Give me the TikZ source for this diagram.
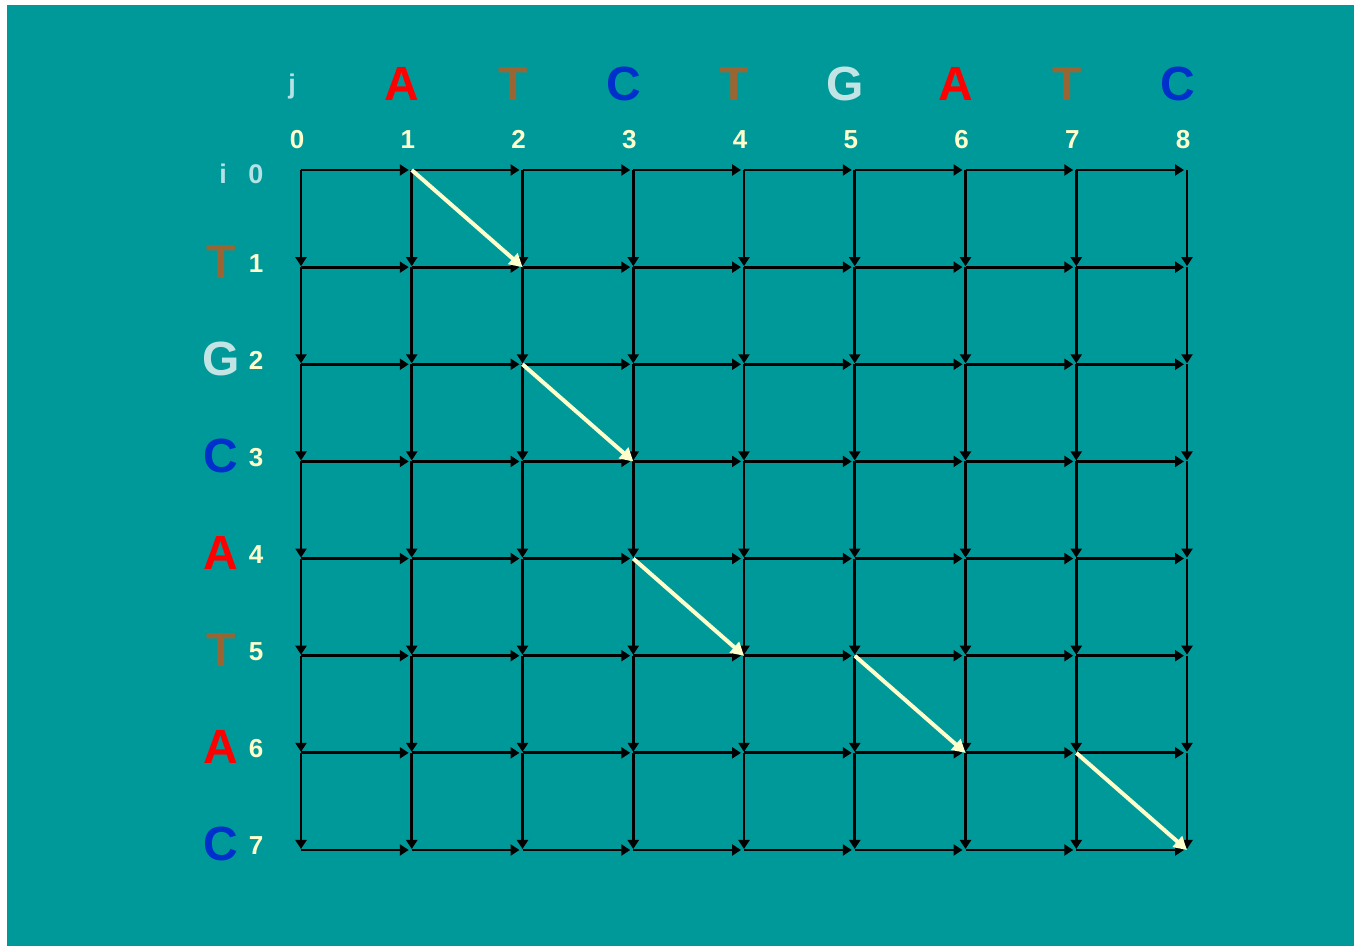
\documentclass[tikz,border=0pt]{standalone}
\usepackage{fontspec}
\setmainfont{Liberation Sans}
\usetikzlibrary{arrows.meta}
\definecolor{bgteal}{HTML}{009999}
\definecolor{diagc}{HTML}{FFFFCC}
\definecolor{numc}{HTML}{FFFFCC}
\definecolor{idxc}{HTML}{B4E2E6}
\definecolor{baseA}{HTML}{FF0000}
\definecolor{baseT}{HTML}{996633}
\definecolor{baseC}{HTML}{0030CC}
\definecolor{baseG}{HTML}{C2E4E4}
\begin{document}
\begin{tikzpicture}[x=1pt,y=-1pt,
  edge/.style={line width=2.8pt,draw=black,-{Triangle[length=9pt,width=11pt]},shorten >=1pt},
  match/.style={line width=4pt,draw=diagc,-{Triangle[length=13pt,width=14pt]}},
  base/.style={inner sep=0pt,anchor=base,font=\fontsize{48}{48}\selectfont\bfseries},
  num/.style={inner sep=0pt,anchor=base,text=numc,font=\fontsize{26}{26}\selectfont\bfseries},
  idx/.style={inner sep=0pt,anchor=base,text=idxc,font=\fontsize{27}{27}\selectfont\bfseries}]
\useasboundingbox (0,0) rectangle (1354,946);
\fill[white] (0,0) rectangle (1354,946);
\fill[bgteal] (7,5) rectangle (1354,946);
% grid points
\foreach \i in {0,...,7}{
  \foreach \j in {0,...,8}{
    \coordinate (n-\i-\j) at ({301+110.75*\j},{170+97.14*\i});
  }
}
% vertical arrows
\foreach \i [evaluate=\i as \p using int(\i-1)] in {1,...,7}{
  \foreach \j in {0,...,8}{
    \draw[edge] (n-\p-\j) -- (n-\i-\j);
  }
}
% horizontal arrows
\foreach \i in {0,...,7}{
  \foreach \j [evaluate=\j as \p using int(\j-1)] in {1,...,8}{
    \draw[edge,shorten >=3pt] (n-\i-\p) -- (n-\i-\j);
  }
}
% matching diagonals
\draw[match] (n-0-1) -- (n-1-2);
\draw[match] (n-2-2) -- (n-3-3);
\draw[match] (n-4-3) -- (n-5-4);
\draw[match] (n-5-5) -- (n-6-6);
\draw[match] (n-6-7) -- (n-7-8);
% top sequence
\node[idx] (jlab) at (292,93) {j};
\foreach \j/\b/\c in {1/A/baseA,2/T/baseT,3/C/baseC,4/T/baseT,5/G/baseG,6/A/baseA,7/T/baseT,8/C/baseC}{
  \node[base,text=\c] (top-\j) at ({301+110.75*\j-9.5},100) {\b};
}
\foreach \j in {0,...,8}{
  \node[num] (cn-\j) at ({301+110.75*\j-4},148) {\j};
}
% left sequence
\node[idx] (ilab) at (223,183) {i};
\node[idx] (i0) at (256,183) {0};
\foreach \i/\b/\c in {1/T/baseT,2/G/baseG,3/C/baseC,4/A/baseA,5/T/baseT,6/A/baseA,7/C/baseC}{
  \node[base,text=\c] (left-\i) at (221,{170+97.14*\i+11}) {\b};
  \node[num] (rn-\i) at (256,{170+97.14*\i+5}) {\i};
}
\end{tikzpicture}
\end{document}
